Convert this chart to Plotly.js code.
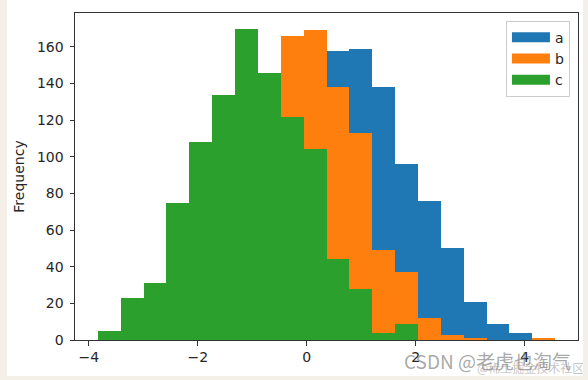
<!DOCTYPE html>
<html>
<head>
<meta charset="utf-8">
<script src="https://cdn.plot.ly/plotly-3.0.1.min.js"></script>
<style>
  html, body { margin: 0; padding: 0; background: #f4f0e8; width: 588px; height: 380px; overflow: hidden; }
  #chart { position: absolute; left: 7px; top: 0; width: 576px; height: 376px; background: #ffffff; }
</style>
</head>
<body>
<div id="chart"></div>
<script>
// Shared histogram bins (20 bins)
const binStart = -3.833;
const binWidth = 0.4196;
const binCount = 20;

// Counts per bin for each column (drawn overlapping: a, then b, then c on top)
const seriesNames = ['a', 'b', 'c'];
const countsA = [0, 0, 0, 0, 2, 6, 18, 41, 76, 117, 158, 159, 138, 96, 76, 50, 21, 9, 4, 0];
const countsB = [0, 1, 3, 10, 26, 52, 92, 130, 166, 169, 138, 113, 49, 37, 12, 3, 1, 0, 0, 1];
const countsC = [5, 23, 31, 75, 108, 134, 170, 146, 122, 104, 44, 28, 4, 9, 0, 0, 0, 0, 0, 0];
const colors = ['#1f77b4', '#ff7f0e', '#2ca02c'];

const xTicks = [-4, -2, 0, 2, 4];
const yTicks = [0, 20, 40, 60, 80, 100, 120, 140, 160];

const centers = [];
for (let i = 0; i < binCount; i++) centers.push(binStart + binWidth * (i + 0.5));

const allCounts = [countsA, countsB, countsC];
const traces = [];
allCounts.forEach((vals, k) => {
  traces.push({
    type: 'bar', x: centers, y: vals, width: binWidth,
    name: seriesNames[k], showlegend: false,
    marker: { color: colors[k], line: { width: 0 } },
    hoverinfo: 'x+y'
  });
});
// legend entries (wide patches)
seriesNames.forEach((n, k) => {
  traces.push({
    type: 'scatter', mode: 'lines', x: [null], y: [null], name: n,
    line: { color: colors[k], width: 10 }, showlegend: true, hoverinfo: 'skip'
  });
});

const xMin = binStart, xMax = binStart + binWidth * binCount;
const xPad = (xMax - xMin) * 0.05;
const yMax = Math.max(...countsA, ...countsB, ...countsC) * 1.05;

const axisCommon = {
  showline: true, mirror: true, linecolor: '#333', linewidth: 1,
  ticks: 'outside', ticklen: 4.5, tickwidth: 1, tickcolor: '#333',
  showgrid: false, zeroline: false,
  tickfont: { family: 'DejaVu Sans', size: 14, color: '#262626' }
};

const layout = {
  width: 576, height: 376,
  margin: { l: 68, r: 5, t: 13, b: 35.5 },
  paper_bgcolor: '#ffffff', plot_bgcolor: '#ffffff',
  barmode: 'overlay', bargap: 0,
  font: { family: 'DejaVu Sans', size: 14, color: '#262626' },
  xaxis: Object.assign({}, axisCommon, {
    range: [xMin - xPad, xMax + xPad], tickmode: 'array', tickvals: xTicks,
    ticktext: xTicks.map(v => (v < 0 ? '\u2212' + Math.abs(v) : String(v)))
  }),
  yaxis: Object.assign({}, axisCommon, {
    range: [0, yMax], tickmode: 'array', tickvals: yTicks, ticklabelstandoff: 3,
    title: { text: 'Frequency', font: { family: 'DejaVu Sans', size: 14, color: '#262626' }, standoff: 9 }
  }),
  legend: {
    x: 0.984, xanchor: 'right', y: 0.9765, yanchor: 'top',
    bgcolor: 'rgba(255,255,255,0.8)', bordercolor: '#cccccc', borderwidth: 1,
    font: { family: 'DejaVu Sans', size: 14, color: '#262626' }, itemwidth: 38
  },
  annotations: [
    { text: 'CSDN @老虎也淘气', xref: 'paper', yref: 'paper', x: 0.6495, y: -0.0626,
      xanchor: 'left', yanchor: 'middle', showarrow: false,
      font: { family: 'Noto Sans CJK SC', size: 19, color: 'rgba(110,110,110,0.6)' } },
    { text: '@稀土掘金技术社区', xref: 'paper', yref: 'paper', x: 0.795, y: -0.084,
      xanchor: 'left', yanchor: 'middle', showarrow: false,
      font: { family: 'Noto Sans CJK SC', size: 12, color: 'rgba(140,140,140,0.5)' } }
  ]
};

Plotly.newPlot('chart', traces, layout, { displayModeBar: false, staticPlot: true });
</script>
</body>
</html>
